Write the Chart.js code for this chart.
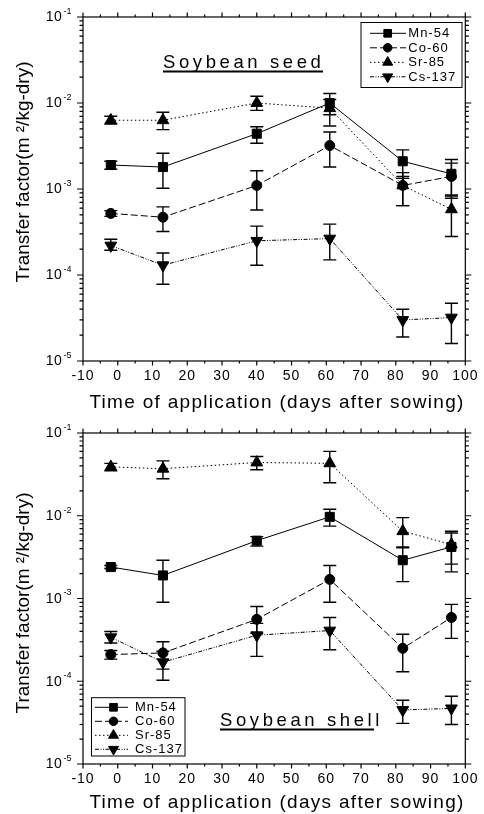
<!DOCTYPE html>
<html>
<head>
<meta charset="utf-8">
<script src="https://cdn.jsdelivr.net/npm/chart.js@4.4.1/dist/chart.umd.min.js"></script>
<style>
  body { margin: 0; background: #fff; }
  canvas { display: block; }
</style>
</head>
<body>
<canvas id="seedChart" width="484" height="420"></canvas>
<canvas id="shellChart" width="484" height="394"></canvas>
<script>
// sampling days and series names
const days = [-2, 13, 40, 61, 82, 96];
const nuclides = ["Mn-54", "Co-60", "Sr-85", "Cs-137"];
const xTicks = [-10, 0, 10, 20, 30, 40, 50, 60, 70, 80, 90, 100];
const yTicks = [1e-5, 1e-4, 1e-3, 1e-2, 1e-1];
const yTickExp = ["-5", "-4", "-3", "-2", "-1"];

// Soybean seed (value, lower and upper end of error bar)
const seedMn   = [1.9e-3, 1.8e-3, 4.4e-3, 1.0e-2, 2.1e-3, 1.5e-3];
const seedMnLo = [1.7e-3, 1.02e-3, 3.4e-3, 7.3e-3, 1.33e-3, 7.8e-4];
const seedMnHi = [2.1e-3, 2.6e-3, 5.3e-3, 1.29e-2, 2.85e-3, 2.2e-3];
const seedCo   = [5.2e-4, 4.7e-4, 1.1e-3, 3.2e-3, 1.1e-3, 1.4e-3];
const seedCoLo = [4.8e-4, 3.2e-4, 5.7e-4, 1.8e-3, 6.4e-4, 8.3e-4];
const seedCoHi = [5.6e-4, 6.2e-4, 1.63e-3, 4.6e-3, 1.55e-3, 2.0e-3];
const seedSr   = [6.3e-3, 6.3e-3, 1.0e-2, 8.7e-3, 1.1e-3, 5.8e-4];
const seedSrLo = [5.7e-3, 4.9e-3, 8.2e-3, 5.4e-3, 6.4e-4, 2.8e-4];
const seedSrHi = [7.0e-3, 7.8e-3, 1.2e-2, 1.1e-2, 1.4e-3, 8.5e-4];
const seedCs   = [2.2e-4, 1.3e-4, 2.5e-4, 2.65e-4, 3.0e-5, 3.2e-5];
const seedCsLo = [1.94e-4, 7.8e-5, 1.3e-4, 1.5e-4, 1.9e-5, 1.6e-5];
const seedCsHi = [2.6e-4, 1.8e-4, 3.7e-4, 3.9e-4, 4.0e-5, 4.7e-5];

// Soybean shell
const shellMn   = [2.4e-3, 1.9e-3, 5.0e-3, 9.7e-3, 2.9e-3, 4.2e-3];
const shellMnLo = [2.3e-3, 9.0e-4, 4.3e-3, 7.5e-3, 1.6e-3, 2.1e-3];
const shellMnHi = [2.5e-3, 2.9e-3, 5.6e-3, 1.2e-2, 4.2e-3, 6.2e-3];
const shellCo   = [2.1e-4, 2.2e-4, 5.6e-4, 1.7e-3, 2.5e-4, 5.9e-4];
const shellCoLo = [1.85e-4, 1.4e-4, 3.8e-4, 9.0e-4, 1.3e-4, 3.3e-4];
const shellCoHi = [2.35e-4, 3.0e-4, 8.0e-4, 2.5e-3, 3.7e-4, 8.5e-4];
const shellSr   = [3.9e-2, 3.7e-2, 4.4e-2, 4.3e-2, 6.5e-3, 4.5e-3];
const shellSrLo = [3.5e-2, 2.8e-2, 3.6e-2, 2.5e-2, 4.1e-3, 2.6e-3];
const shellSrHi = [4.3e-2, 4.6e-2, 5.2e-2, 6.0e-2, 9.5e-3, 6.5e-3];
const shellCs   = [3.4e-4, 1.7e-4, 3.6e-4, 4.1e-4, 4.5e-5, 4.7e-5];
const shellCsLo = [2.9e-4, 1.03e-4, 2.0e-4, 2.4e-4, 3.1e-5, 3.0e-5];
const shellCsHi = [4.0e-4, 2.3e-4, 5.0e-4, 5.9e-4, 5.9e-5, 6.6e-5];

const FONT = "'Liberation Sans', Arial, sans-serif";

// line / marker look per nuclide
const looks = [
  { style: "rect",     rot: 0,   r: 6.4, dash: [] },
  { style: "circle",   rot: 0,   r: 5,   dash: [7, 3] },
  { style: "triangle", rot: 0,   r: 6.8, dash: [1.5, 2.5] },
  { style: "triangle", rot: 180, r: 6.8, dash: [4, 1.5, 1, 1.5, 1, 1.5] }
];

function text(ctx, str, x, y, size, align, spacing) {
  ctx.font = size + "px " + FONT;
  ctx.letterSpacing = (spacing || 0) + "px";
  ctx.textAlign = align || "left";
  ctx.fillText(str, x, y);
}

// slightly spaced tick numbers, like the original plot
const spacing = {
  id: "spacing",
  beforeDraw(chart) { chart.ctx.letterSpacing = "1px"; }
};

// vertical error bars, drawn under the markers
const errorBars = {
  id: "errorBars",
  beforeDatasetsDraw(chart) {
    const ctx = chart.ctx, ys = chart.scales.y;
    ctx.save();
    ctx.strokeStyle = "#000";
    ctx.lineWidth = 1.4;
    chart.data.datasets.forEach((ds, i) => {
      chart.getDatasetMeta(i).data.forEach((pt, j) => {
        const top = ys.getPixelForValue(ds.hi[j]);
        const bot = ys.getPixelForValue(ds.lo[j]);
        ctx.beginPath();
        ctx.moveTo(pt.x, top); ctx.lineTo(pt.x, bot);
        ctx.moveTo(pt.x - 6.5, top); ctx.lineTo(pt.x + 6.5, top);
        ctx.moveTo(pt.x - 6.5, bot); ctx.lineTo(pt.x + 6.5, bot);
        ctx.stroke();
      });
    });
    ctx.restore();
  }
};

// box, tick marks, y labels, titles, panel name and legend
const frame = {
  id: "frame",
  afterDraw(chart, args, o) {
    const ctx = chart.ctx, a = chart.chartArea;
    const xs = chart.scales.x, ys = chart.scales.y;
    ctx.save();
    ctx.strokeStyle = "#000";
    ctx.fillStyle = "#000";
    ctx.lineWidth = 1.2;
    ctx.strokeRect(a.left, a.top, a.right - a.left, a.bottom - a.top);

    ctx.beginPath();
    for (let v = -10; v <= 100; v += 5) {
      const px = xs.getPixelForValue(v), len = v % 10 === 0 ? 4.5 : 2.5;
      ctx.moveTo(px, a.bottom); ctx.lineTo(px, a.bottom + len);
      ctx.moveTo(px, a.top); ctx.lineTo(px, a.top - len);
    }
    for (let e = -5; e <= -2; e++) {
      for (let m = 1; m <= 10; m++) {
        const py = ys.getPixelForValue(m * Math.pow(10, e));
        const len = (m === 1 || m === 10) ? 6 : 3.5;
        ctx.moveTo(a.left, py); ctx.lineTo(a.left - len, py);
        ctx.moveTo(a.right, py); ctx.lineTo(a.right + len, py);
      }
    }
    ctx.stroke();

    ctx.textBaseline = "middle";
    yTicks.forEach((v, i) => {
      const py = ys.getPixelForValue(v);
      text(ctx, "10", a.left - 21, py + 0.5, 14, "right", 0.3);
      text(ctx, yTickExp[i], a.left - 19.5, py - 5.5, 9, "left", 0);
    });

    // y title
    ctx.save();
    ctx.translate(24, o.yTitleY);
    ctx.rotate(-Math.PI / 2);
    text(ctx, "Transfer factor(m \u00B2/kg-dry)", 0, 0, 19, "center", 0);
    ctx.restore();

    // x title
    ctx.textBaseline = "alphabetic";
    text(ctx, "Time of application (days after sowing)", 277, o.xTitleY, 19, "center", 1.3);

    // panel name, underlined
    text(ctx, o.name, o.nameX, o.nameY, 18.5, "left", 3.6);
    ctx.fillRect(o.nameX, o.nameY + 2.5, o.nameW, 2);

    // legend
    const L = o.legend;
    ctx.lineWidth = 1;
    ctx.strokeRect(L.x, L.y, L.w, L.h);
    ctx.textBaseline = "middle";
    chart.data.datasets.forEach((ds, i) => {
      const ry = L.y + L.row0 + i * L.step;
      ctx.save();
      ctx.setLineDash(looks[i].dash);
      ctx.lineWidth = 1;
      ctx.beginPath();
      ctx.moveTo(L.x + L.line0, ry); ctx.lineTo(L.x + L.line1, ry);
      ctx.stroke();
      ctx.restore();
      Chart.helpers.drawPoint(ctx, {
        pointStyle: looks[i].style, rotation: looks[i].rot,
        radius: looks[i].r * 0.85, borderWidth: 1
      }, L.x + L.mark, ry);
      text(ctx, ds.label, L.x + L.textX, ry + 0.5, 13, "left", 1);
    });
    ctx.restore();
  }
};

function makePanel(id, series, cfg) {
  return new Chart(document.getElementById(id), {
    type: "line",
    data: {
      datasets: series.map((s, i) => ({
        label: nuclides[i],
        data: days.map((d, j) => ({ x: d, y: s[0][j] })),
        lo: s[1],
        hi: s[2],
        borderColor: "#000",
        backgroundColor: "#000",
        borderWidth: 1,
        borderDash: looks[i].dash,
        pointStyle: looks[i].style,
        pointRotation: looks[i].rot,
        pointRadius: looks[i].r,
        pointBorderWidth: 1,
        pointHoverRadius: looks[i].r,
        tension: 0
      }))
    },
    options: {
      responsive: false,
      animation: false,
      events: [],
      layout: { padding: { top: cfg.top, right: cfg.right, left: 0, bottom: 0 } },
      scales: {
        x: {
          type: "linear",
          min: -10,
          max: 100,
          afterBuildTicks: s => { s.ticks = xTicks.map(v => ({ value: v })); },
          afterFit: s => { s.height = cfg.xHeight; },
          ticks: {
            autoSkip: false,
            maxRotation: 0,
            color: "#000",
            padding: 7,
            font: { family: FONT, size: 14 }
          },
          grid: { display: false, drawTicks: false },
          border: { display: false }
        },
        y: {
          type: "logarithmic",
          min: 1e-5,
          max: 1e-1,
          afterFit: s => { s.width = 83; },
          ticks: { display: false },
          grid: { display: false, drawTicks: false },
          border: { display: false }
        }
      },
      plugins: {
        legend: { display: false },
        tooltip: { enabled: false },
        frame: cfg.frame
      }
    },
    plugins: [spacing, errorBars, frame]
  });
}

makePanel("seedChart", [
  [seedMn, seedMnLo, seedMnHi],
  [seedCo, seedCoLo, seedCoHi],
  [seedSr, seedSrLo, seedSrHi],
  [seedCs, seedCsLo, seedCsHi]
], {
  top: 17, right: 13, xHeight: 59,
  frame: {
    yTitleY: 172, xTitleY: 408,
    name: "Soybean seed", nameX: 163, nameY: 68, nameW: 160,
    legend: { x: 361, y: 22.5, w: 101, h: 65, row0: 10.8, step: 14.5, line0: 9, line1: 45, mark: 26.7, textX: 47.3 }
  }
});

makePanel("shellChart", [
  [shellMn, shellMnLo, shellMnHi],
  [shellCo, shellCoLo, shellCoHi],
  [shellSr, shellSrLo, shellSrHi],
  [shellCs, shellCsLo, shellCsHi]
], {
  top: 13, right: 14, xHeight: 50,
  frame: {
    yTitleY: 183, xTitleY: 388,
    name: "Soybean shell", nameX: 220, nameY: 306, nameW: 154,
    legend: { x: 91.5, y: 277.7, w: 93.5, h: 58.3, row0: 9.6, step: 14, line0: 3.5, line1: 36.5, mark: 22, textX: 43.5 }
  }
});
</script>
</body>
</html>
